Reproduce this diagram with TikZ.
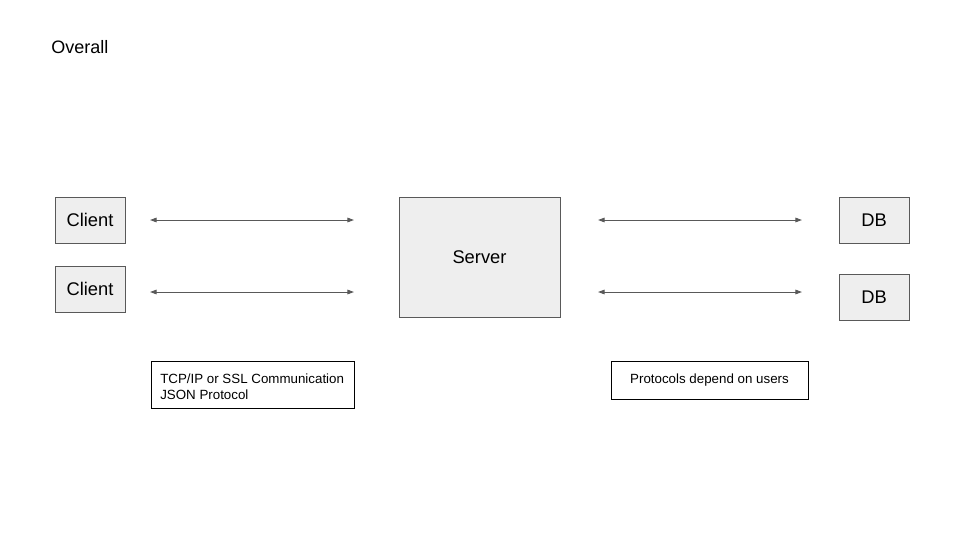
\documentclass[tikz,border=0pt]{standalone}
\usepackage{fontspec}
\setmainfont{Liberation Sans}
\usetikzlibrary{arrows.meta}
\definecolor{boxfill}{HTML}{EEEEEE}
\definecolor{boxline}{HTML}{595959}
\definecolor{arrowc}{HTML}{595959}
\begin{document}
\begin{tikzpicture}[x=0.75pt,y=-0.75pt,
  graybox/.style={draw=boxline,fill=boxfill,line width=0.75pt,inner sep=0pt,font=\fontsize{13.75pt}{16pt}\selectfont},
  notebox/.style={draw=black,fill=white,line width=0.75pt,inner sep=0pt,font=\fontsize{10pt}{12pt}\selectfont},
  notetext/.style={anchor=base west,font=\fontsize{10pt}{12pt}\selectfont,inner sep=0pt},
  conn/.style={draw=arrowc,line width=0.75pt,{Triangle[length=5pt,width=3.5pt]}-{Triangle[length=5pt,width=3.5pt]}}]
\useasboundingbox (0,0) rectangle (960,540);
\node[anchor=base west,font=\fontsize{13.5pt}{16pt}\selectfont,inner sep=0pt] (title) at (51,53) {Overall};
\node[graybox,minimum width=70*0.75pt,minimum height=46*0.75pt] (c1) at (90,220) {Client};
\node[graybox,minimum width=70*0.75pt,minimum height=46*0.75pt] (c2) at (90,289) {Client};
\node[graybox,minimum width=161*0.75pt,minimum height=120*0.75pt] (srv) at (479.5,257) {Server};
\node[graybox,minimum width=70*0.75pt,minimum height=46*0.75pt] (d1) at (874,220) {DB};
\node[graybox,minimum width=70*0.75pt,minimum height=46*0.75pt] (d2) at (874,297) {DB};
\coordinate (a1l) at (150,220); \coordinate (a1r) at (354,220);
\coordinate (a2l) at (150,292); \coordinate (a2r) at (354,292);
\coordinate (b1l) at (598,220); \coordinate (b1r) at (802,220);
\coordinate (b2l) at (598,292); \coordinate (b2r) at (802,292);
\draw[conn] (a1l) -- (a1r);
\draw[conn] (a2l) -- (a2r);
\draw[conn] (b1l) -- (b1r);
\draw[conn] (b2l) -- (b2r);
\node[notebox,minimum width=203*0.75pt,minimum height=47*0.75pt] (n1) at (252.5,384.5) {};
\node[notetext] (n1a) at (160,383) {TCP/IP or SSL Communication};
\node[notetext] (n1b) at (160,399) {JSON Protocol};
\node[notebox,minimum width=197*0.75pt,minimum height=38*0.75pt] (n2) at (709.5,380) {Protocols depend on users};
\end{tikzpicture}
\end{document}
